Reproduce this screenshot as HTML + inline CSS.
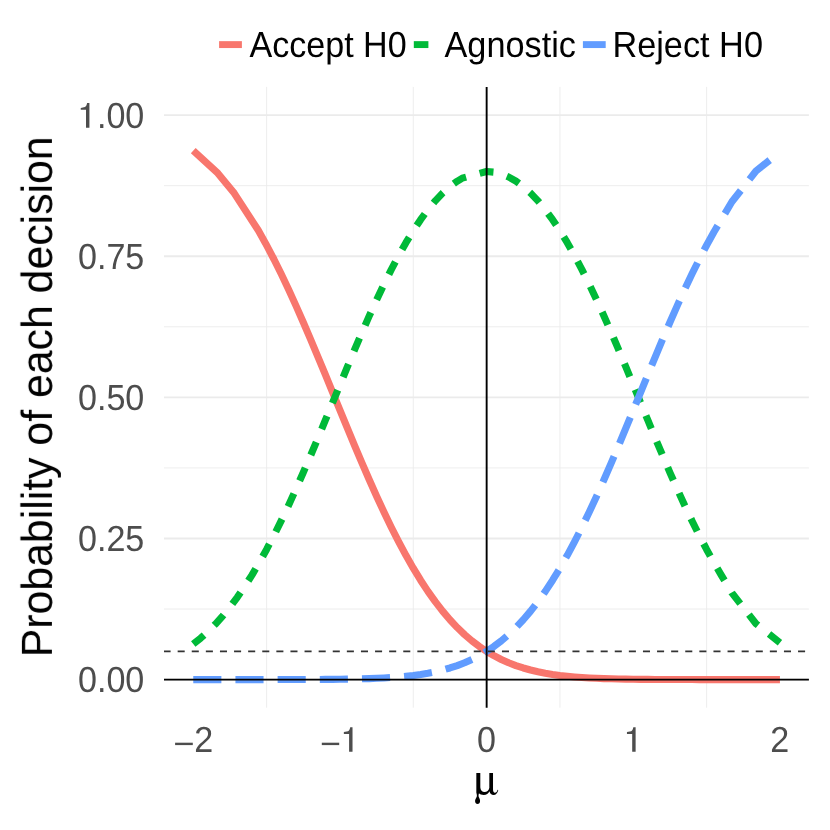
<!DOCTYPE html>
<html><head><meta charset="utf-8"><title>plot</title>
<style>html,body{margin:0;padding:0;background:#fff;}svg{display:block;}text{font-family:"Liberation Sans",sans-serif;text-rendering:geometricPrecision;}</style>
</head><body>
<svg width="830" height="830" viewBox="0 0 830 830">
<rect width="830" height="830" fill="#ffffff"/>
<g stroke="#ebebeb" fill="none">
<line x1="164.0" x2="808.9" y1="679.60" y2="679.60" stroke-width="1.80"/>
<line x1="164.0" x2="808.9" y1="609.04" y2="609.04" stroke-width="0.90"/>
<line x1="164.0" x2="808.9" y1="538.48" y2="538.48" stroke-width="1.80"/>
<line x1="164.0" x2="808.9" y1="467.91" y2="467.91" stroke-width="0.90"/>
<line x1="164.0" x2="808.9" y1="397.35" y2="397.35" stroke-width="1.80"/>
<line x1="164.0" x2="808.9" y1="326.79" y2="326.79" stroke-width="0.90"/>
<line x1="164.0" x2="808.9" y1="256.23" y2="256.23" stroke-width="1.80"/>
<line x1="164.0" x2="808.9" y1="185.66" y2="185.66" stroke-width="0.90"/>
<line x1="164.0" x2="808.9" y1="115.10" y2="115.10" stroke-width="1.80"/>
<line x1="266.60" x2="266.60" y1="86.9" y2="707.7" stroke-width="0.9"/>
<line x1="413.27" x2="413.27" y1="86.9" y2="707.7" stroke-width="0.9"/>
<line x1="559.94" x2="559.94" y1="86.9" y2="707.7" stroke-width="0.9"/>
<line x1="706.61" x2="706.61" y1="86.9" y2="707.7" stroke-width="0.9"/>
</g>
<g fill="none" stroke-width="7.10" stroke-linejoin="round" stroke-linecap="butt">
<path d="M193.26 150.60 L217.80 173.18 L234.30 193.34 L258.40 230.53 L265.60 243.41 L273.93 259.27 L281.26 274.04 L288.60 289.51 L295.93 305.60 L303.26 322.23 L310.60 339.32 L317.93 356.77 L325.26 374.46 L332.60 392.31 L339.93 410.18 L347.26 427.97 L354.60 445.57 L361.93 462.88 L369.26 479.78 L376.60 496.19 L383.93 512.01 L391.26 527.18 L398.60 541.63 L405.93 555.31 L413.27 568.18 L420.60 580.20 L427.93 591.37 L435.27 601.68 L442.60 611.14 L449.93 619.75 L457.27 627.56 L464.60 634.58 L471.93 640.87 L479.27 646.45 L486.60 651.38 L493.93 655.71 L501.27 659.49 L508.60 662.76 L515.93 665.57 L523.27 667.98 L530.60 670.04 L537.93 671.77 L545.27 673.22 L552.60 674.44 L559.94 675.44 L567.27 676.27 L574.60 676.95 L581.94 677.50 L589.27 677.95 L596.60 678.31 L603.94 678.60 L611.27 678.82 L618.60 679.00 L625.94 679.14 L633.27 679.25 L640.60 679.34 L647.94 679.40 L655.27 679.45 L662.60 679.49 L669.94 679.52 L677.27 679.54 L684.60 679.56 L691.94 679.57 L699.27 679.58 L706.61 679.58 L713.94 679.59 L721.27 679.59 L728.61 679.59 L735.94 679.60 L743.27 679.60 L750.61 679.60 L757.94 679.60 L765.27 679.60 L772.61 679.60 L779.94 679.60" stroke="#F8766D"/>
<path d="M193.26 644.10 L200.59 638.22 L207.93 631.62 L215.26 624.26 L222.59 616.10 L229.93 607.12 L237.26 597.30 L244.59 586.62 L251.93 575.07 L259.26 562.68 L266.60 549.46 L273.93 535.45 L281.26 520.69 L288.60 505.23 L295.93 489.16 L303.26 472.55 L310.60 455.49 L317.93 438.08 L325.26 420.43 L332.60 402.66 L339.93 384.87 L347.26 367.18 L354.60 349.72 L361.93 332.60 L369.26 315.92 L376.60 299.80 L383.93 284.34 L391.26 269.61 L398.60 255.72 L405.93 242.72 L413.27 230.68 L420.60 219.66 L427.93 209.71 L435.27 200.85 L442.60 193.13 L449.93 186.56 L457.27 181.17 L462.20 178.20 L486.60 171.53 L493.93 172.14 L501.27 173.95 L508.60 176.96 L515.93 181.17 L523.27 186.56 L530.60 193.13 L537.93 200.85 L545.27 209.71 L552.60 219.66 L559.94 230.68 L567.27 242.72 L574.60 255.72 L581.94 269.61 L589.27 284.34 L596.60 299.80 L603.94 315.92 L611.27 332.60 L618.60 349.72 L625.94 367.18 L633.27 384.87 L640.60 402.66 L647.94 420.43 L655.27 438.08 L662.60 455.49 L669.94 472.55 L677.27 489.16 L684.60 505.23 L691.94 520.69 L699.27 535.45 L706.61 549.46 L713.94 562.68 L721.27 575.07 L731.90 592.90 L756.00 623.70 L779.94 642.70" stroke="#00BA38" stroke-dasharray="14.06 14.06"/>
<path d="M193.26 679.60 L200.59 679.60 L207.93 679.60 L215.26 679.60 L222.59 679.60 L229.93 679.60 L237.26 679.60 L244.59 679.59 L251.93 679.59 L259.26 679.59 L266.60 679.58 L273.93 679.58 L281.26 679.57 L288.60 679.56 L295.93 679.54 L303.26 679.52 L310.60 679.49 L317.93 679.45 L325.26 679.40 L332.60 679.34 L339.93 679.25 L347.26 679.14 L354.60 679.00 L361.93 678.82 L369.26 678.60 L376.60 678.31 L383.93 677.95 L391.26 677.50 L398.60 676.95 L405.93 676.27 L413.27 675.44 L420.60 674.44 L427.93 673.22 L435.27 671.77 L442.60 670.04 L449.93 667.98 L457.27 665.57 L464.60 662.76 L471.93 659.49 L479.27 655.71 L486.60 651.38 L493.93 646.45 L501.27 640.87 L508.60 634.58 L515.93 627.56 L523.27 619.75 L530.60 611.14 L537.93 601.68 L545.27 591.37 L552.60 580.20 L559.94 568.18 L567.27 555.31 L574.60 541.63 L581.94 527.18 L589.27 512.01 L596.60 496.19 L603.94 479.78 L611.27 462.88 L618.60 445.57 L625.94 427.97 L633.27 410.18 L640.60 392.31 L647.94 374.46 L655.27 356.77 L662.60 339.32 L669.94 322.23 L677.27 305.60 L684.60 289.51 L691.94 274.04 L699.27 259.27 L706.61 245.25 L713.94 232.03 L721.27 219.63 L731.90 201.80 L756.00 171.00 L779.94 152.00" stroke="#619CFF" stroke-dasharray="28.12 14.06"/>
</g>
<line x1="164.0" x2="808.9" y1="679.60" y2="679.60" stroke="#000" stroke-width="1.9"/>
<line x1="486.65" x2="486.65" y1="86.9" y2="707.7" stroke="#000" stroke-width="1.9"/>
<line x1="164.0" x2="808.9" y1="651.38" y2="651.38" stroke="#333" stroke-width="1.8" stroke-dasharray="7.05 7.05" stroke-dashoffset="0.45"/>
<g opacity="0.999">
<text transform="translate(144.30 692.10) scale(0.9420 1)" font-size="36.20" fill="#4d4d4d" text-anchor="end">0.00</text>
<text transform="translate(144.30 550.98) scale(0.9420 1)" font-size="36.20" fill="#4d4d4d" text-anchor="end">0.25</text>
<text transform="translate(144.30 409.85) scale(0.9420 1)" font-size="36.20" fill="#4d4d4d" text-anchor="end">0.50</text>
<text transform="translate(144.30 268.73) scale(0.9420 1)" font-size="36.20" fill="#4d4d4d" text-anchor="end">0.75</text>
<text transform="translate(144.30 127.60) scale(0.9420 1)" font-size="36.20" fill="#4d4d4d" text-anchor="end">.00</text>
<path transform="translate(86.00 127.70)" d="M0,0 H3.42 V-24.67 H1.11 C0.72,-22.41 -0.1,-20.96 -1.06,-20.63 L-5.25,-19.76 V-17.83 H0 Z" fill="#4d4d4d"/>
<text transform="translate(486.40 751.90) scale(0.9420 1)" font-size="36.20" fill="#4d4d4d" text-anchor="middle">0</text>
<text transform="translate(779.74 751.90) scale(0.9420 1)" font-size="36.20" fill="#4d4d4d" text-anchor="middle">2</text>
<text transform="translate(194.20 751.90) scale(0.9420 1)" font-size="36.20" fill="#4d4d4d" text-anchor="start">2</text>
<path transform="translate(632.20 751.85)" d="M0,0 H3.42 V-24.67 H1.11 C0.72,-22.41 -0.1,-20.96 -1.06,-20.63 L-5.25,-19.76 V-17.83 H0 Z" fill="#4d4d4d"/>
<path transform="translate(349.10 751.85)" d="M0,0 H3.42 V-24.67 H1.11 C0.72,-22.41 -0.1,-20.96 -1.06,-20.63 L-5.25,-19.76 V-17.83 H0 Z" fill="#4d4d4d"/>
<rect x="175.1" y="742.7" width="17.7" height="2.4" fill="#4d4d4d"/>
<rect x="321.8" y="742.7" width="17.4" height="2.4" fill="#4d4d4d"/>
<text font-size="43.6" fill="#000" text-anchor="middle" transform="translate(51.9 396.8) rotate(-90) scale(0.9817 1)">Probability of each decision</text>
<path transform="translate(466 766) scale(0.05298)" d="M195,132 H270 V400 C272,455 305,492 350,492 C395,492 428,460 440,415 V132 H510 V440 C510,482 522,506 546,506 C570,506 588,482 596,448 L609,454 C598,505 566,549 520,549 C480,549 455,522 443,476 C425,515 385,547 335,547 C295,547 262,535 245,515 C238,540 234,560 241,585 C254,615 266,635 266,660 C266,695 245,716 218,716 C192,716 171,695 171,660 C171,635 188,612 202,582 C210,560 204,540 195,500 Z" fill="#000"/>
<g stroke-width="6.90" fill="none">
<line x1="219.1" x2="241.9" y1="44.6" y2="44.6" stroke="#F8766D"/>
<line x1="413.8" x2="428.4" y1="44.6" y2="44.6" stroke="#00BA38"/>
<line x1="582.9" x2="605.7" y1="44.6" y2="44.6" stroke="#619CFF"/>
</g>
<text transform="translate(249.40 56.80) scale(0.9420 1)" font-size="36.20" fill="#000" text-anchor="start">Accept H0</text>
<text transform="translate(444.50 56.80) scale(0.9475 1)" font-size="36.20" fill="#000" text-anchor="start">Agnostic</text>
<text transform="translate(612.40 56.80) scale(0.9475 1)" font-size="36.20" fill="#000" text-anchor="start">Reject H0</text>
</g>
</svg></body></html>
